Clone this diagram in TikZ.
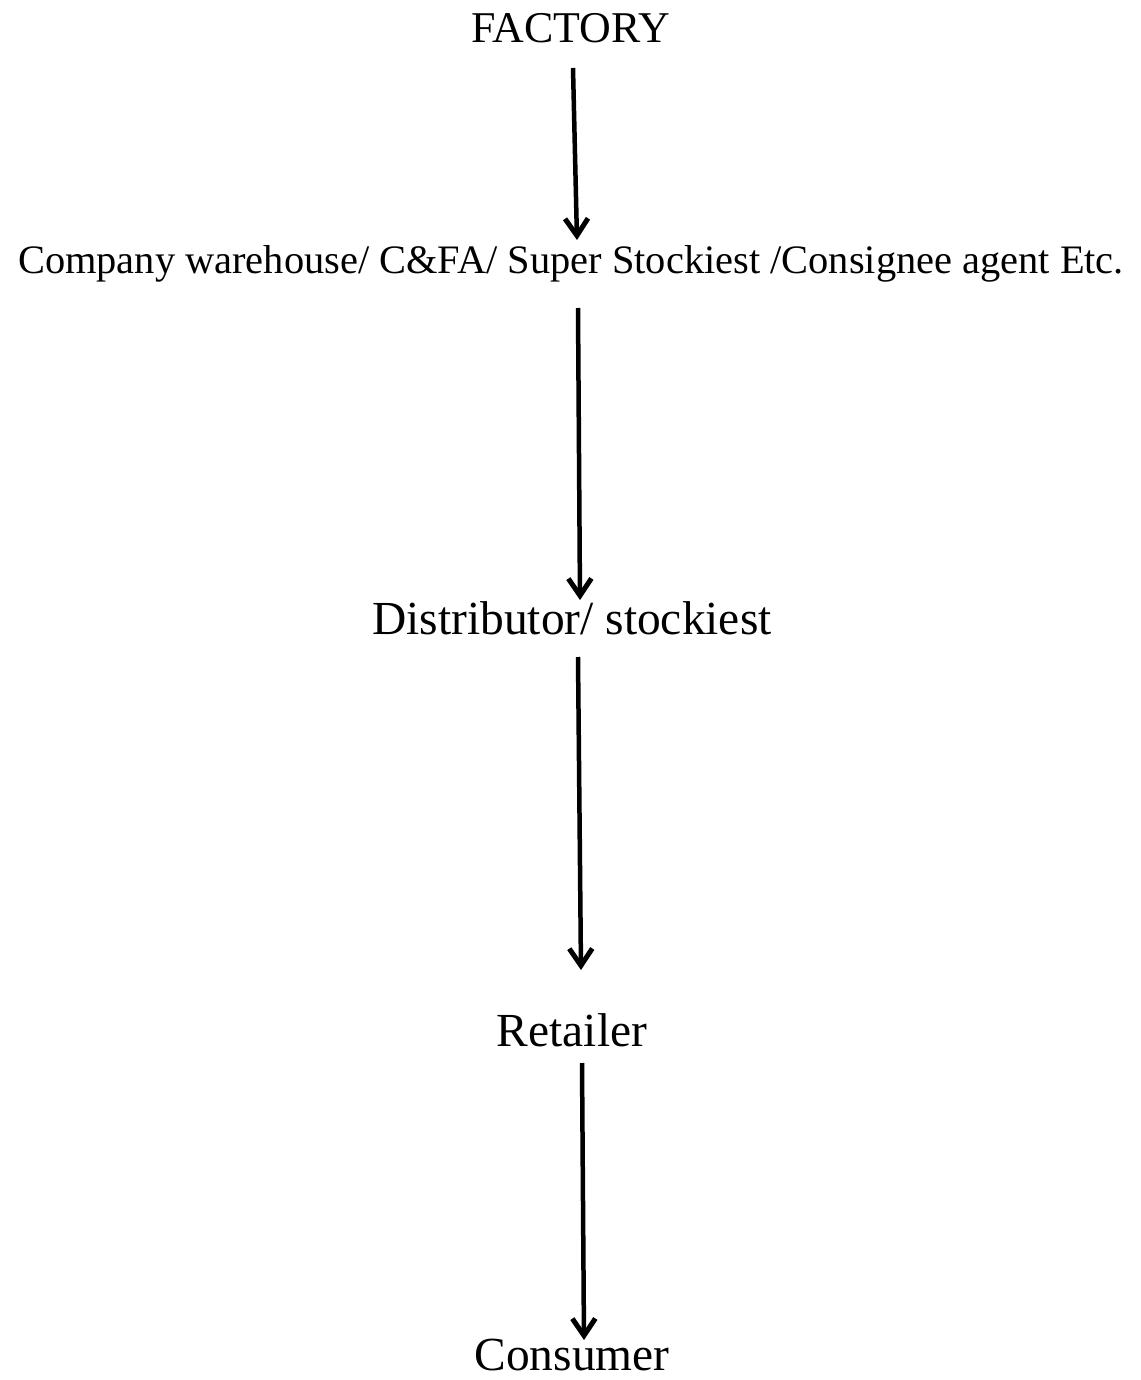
\documentclass[tikz,border=0pt]{standalone}
\usepackage{fontspec}
\setmainfont{Liberation Serif}
\usepackage{tikz}
\usetikzlibrary{arrows.meta}

\begin{document}
\begin{tikzpicture}[x=0.02cm, y=-0.02cm,
	stage/.style={inner sep=0pt, font=\fontsize{27}{30}\selectfont},
	flow/.style={line width=0.09cm, -{Straight Barb[length=0.34cm, width=0.46cm, line width=0.1cm]}}]
		%%%%% START %%%%%
		\useasboundingbox (0, 0) rectangle (1140, 1380);
		
		\node[stage, font=\fontsize{25}{28}\selectfont] (factory) at (571, 28) {FACTORY};
		\node[stage, font=\fontsize{23}{26}\selectfont] (warehouse) at (571, 264) {Company warehouse/ C\&FA/ Super Stockiest /Consignee agent Etc.};
		\node[stage] (distributor) at (572, 618) {Distributor/ stockiest};
		\node[stage] (retailer) at (572, 1030) {Retailer};
		\node[stage] (consumer) at (572, 1355) {Consumer};
		
		\draw[flow] ([xshift=0.04cm, yshift=-0.8cm]factory.center) -- ([xshift=0.12cm, yshift=0.48cm]warehouse.center);
		\draw[flow] ([xshift=0.14cm, yshift=-0.88cm]warehouse.center) -- ([xshift=0.16cm, yshift=0.36cm]distributor.center);
		\draw[flow] ([xshift=0.12cm, yshift=-0.78cm]distributor.center) -- ([xshift=0.18cm, yshift=1.2cm]retailer.center);
		\draw[flow] ([xshift=0.2cm, yshift=-0.66cm]retailer.center) -- ([xshift=0.24cm, yshift=0.3cm]consumer.center);
		
		%%%%% END %%%%%
	\end{tikzpicture}
\end{document}
